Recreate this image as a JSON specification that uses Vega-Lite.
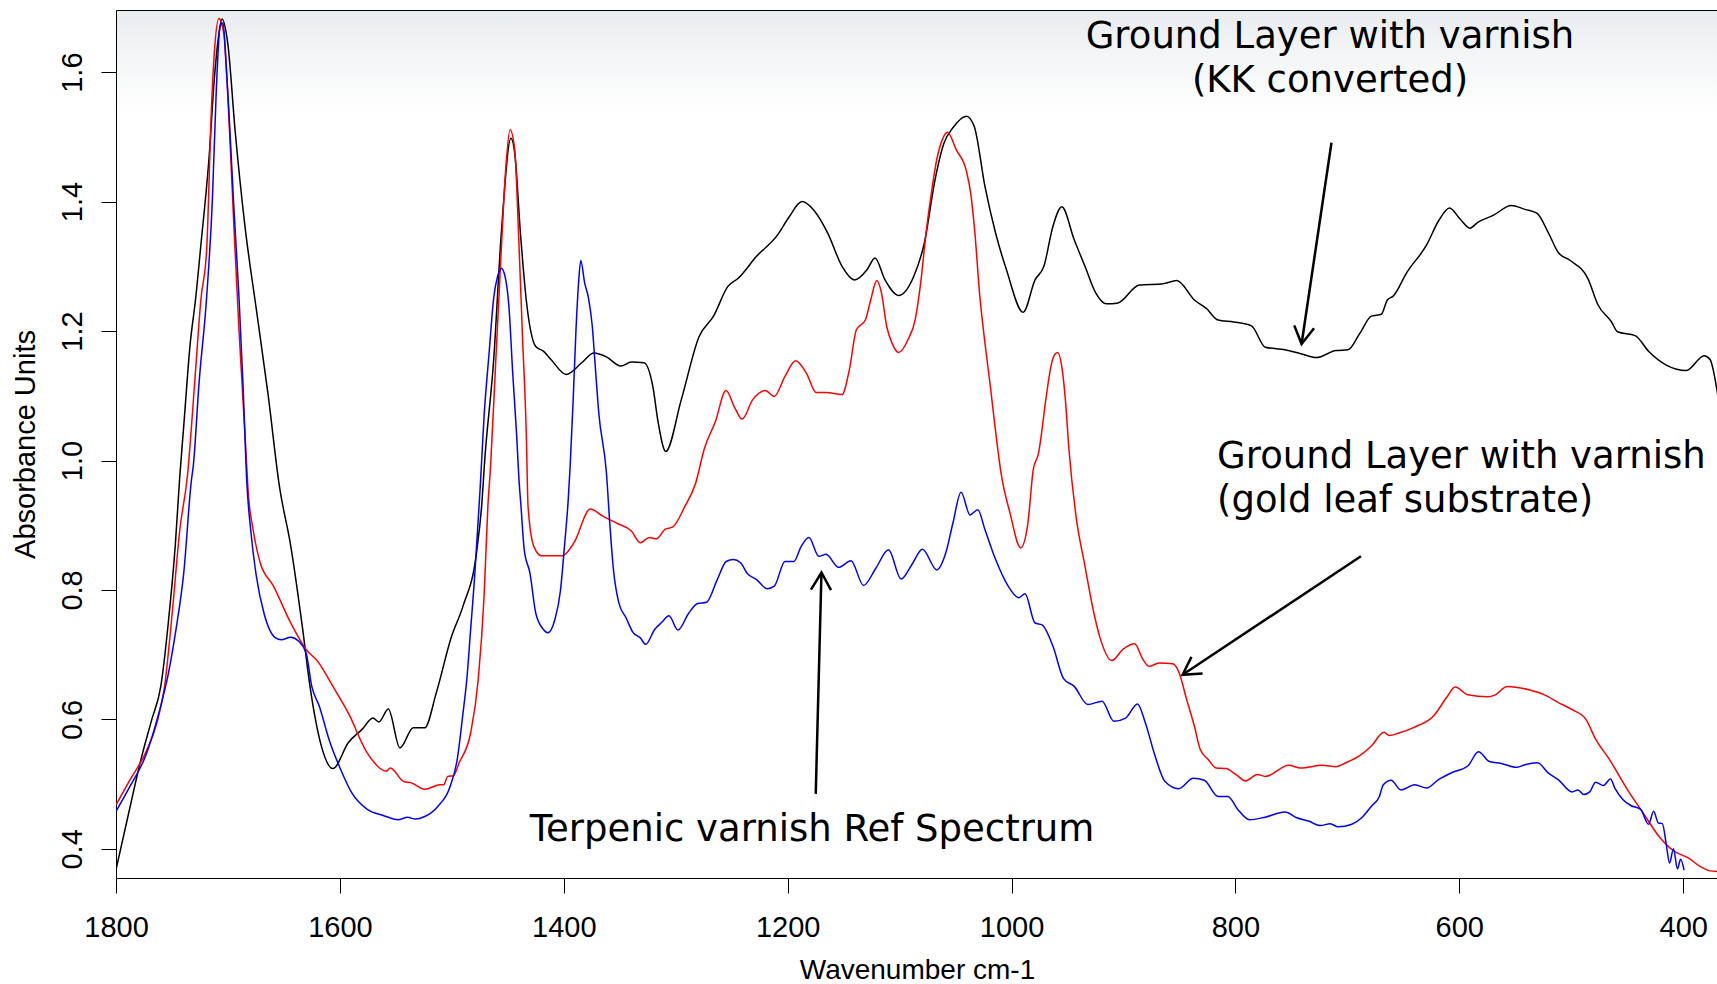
{
  "$schema": "https://vega.github.io/schema/vega-lite/v6.json",
  "width": 1602,
  "height": 868,
  "autosize": {"type": "none"},
  "padding": {"left": 116, "top": 10, "right": 0, "bottom": 106},
  "background": "#ffffff",
  "config": {
    "view": {
      "stroke": "#000000",
      "strokeWidth": 1,
      "fill": {"gradient": "linear", "x1": 0, "y1": 0, "x2": 0, "y2": 1, "stops": [{"offset": 0, "color": "#e9ecef"}, {"offset": 0.05, "color": "#f3f5f6"}, {"offset": 0.12, "color": "#ffffff"}, {"offset": 1, "color": "#ffffff"}]}
    }
  },
  "datasets": {
    "spec": [
      {"s":"K","w":1800,"v":0.368},{"s":"K","w":1790,"v":0.445},{"s":"K","w":1777,"v":0.543},{"s":"K","w":1768,"v":0.600},{"s":"K","w":1760,"v":0.651},{"s":"K","w":1753,"v":0.754},{"s":"K","w":1747,"v":0.870},{"s":"K","w":1743,"v":0.976},{"s":"K","w":1739.5,"v":1.053},{"s":"K","w":1733.7,"v":1.181},{"s":"K","w":1729,"v":1.248},{"s":"K","w":1724,"v":1.336},{"s":"K","w":1717,"v":1.465},{"s":"K","w":1712,"v":1.593},{"s":"K","w":1708,"v":1.660},{"s":"K","w":1705.3,"v":1.682},{"s":"K","w":1700.2,"v":1.645},{"s":"K","w":1693.4,"v":1.506},{"s":"K","w":1684.8,"v":1.362},{"s":"K","w":1674.6,"v":1.233},{"s":"K","w":1664.3,"v":1.104},{"s":"K","w":1654,"v":0.960},{"s":"K","w":1643.8,"v":0.867},{"s":"K","w":1633.6,"v":0.744},{"s":"K","w":1626.7,"v":0.651},{"s":"K","w":1616.4,"v":0.558},{"s":"K","w":1606.2,"v":0.524},{"s":"K","w":1592.5,"v":0.564},{"s":"K","w":1580,"v":0.585},{"s":"K","w":1570.4,"v":0.602},{"s":"K","w":1565.2,"v":0.596},{"s":"K","w":1556.7,"v":0.616},{"s":"K","w":1546.4,"v":0.556},{"s":"K","w":1534.4,"v":0.587},{"s":"K","w":1524.2,"v":0.587},{"s":"K","w":1513.9,"v":0.641},{"s":"K","w":1500.3,"v":0.728},{"s":"K","w":1490,"v":0.775},{"s":"K","w":1478,"v":0.857},{"s":"K","w":1472.9,"v":0.940},{"s":"K","w":1471,"v":0.991},{"s":"K","w":1462.6,"v":1.156},{"s":"K","w":1455.8,"v":1.351},{"s":"K","w":1447.2,"v":1.498},{"s":"K","w":1443.8,"v":1.475},{"s":"K","w":1438.7,"v":1.351},{"s":"K","w":1433.5,"v":1.248},{"s":"K","w":1425,"v":1.176},{"s":"K","w":1418.2,"v":1.169},{"s":"K","w":1411.4,"v":1.156},{"s":"K","w":1397.7,"v":1.133},{"s":"K","w":1384,"v":1.151},{"s":"K","w":1373,"v":1.166},{"s":"K","w":1361.9,"v":1.160},{"s":"K","w":1349.1,"v":1.146},{"s":"K","w":1339.6,"v":1.152},{"s":"K","w":1328.4,"v":1.151},{"s":"K","w":1320.4,"v":1.114},{"s":"K","w":1315.6,"v":1.058},{"s":"K","w":1308.9,"v":1.014},{"s":"K","w":1295,"v":1.094},{"s":"K","w":1279,"v":1.192},{"s":"K","w":1266.2,"v":1.223},{"s":"K","w":1253.4,"v":1.269},{"s":"K","w":1243.9,"v":1.282},{"s":"K","w":1228,"v":1.315},{"s":"K","w":1208.8,"v":1.349},{"s":"K","w":1199.2,"v":1.375},{"s":"K","w":1187.1,"v":1.400},{"s":"K","w":1176.8,"v":1.387},{"s":"K","w":1164.1,"v":1.351},{"s":"K","w":1151.4,"v":1.300},{"s":"K","w":1140.2,"v":1.279},{"s":"K","w":1129,"v":1.295},{"s":"K","w":1122,"v":1.313},{"s":"K","w":1113,"v":1.279},{"s":"K","w":1100.9,"v":1.255},{"s":"K","w":1087.5,"v":1.284},{"s":"K","w":1077.9,"v":1.336},{"s":"K","w":1068.3,"v":1.434},{"s":"K","w":1060.4,"v":1.490},{"s":"K","w":1052.4,"v":1.514},{"s":"K","w":1040.3,"v":1.532},{"s":"K","w":1033.3,"v":1.516},{"s":"K","w":1023.7,"v":1.423},{"s":"K","w":1014.2,"v":1.351},{"s":"K","w":1004.6,"v":1.295},{"s":"K","w":989.6,"v":1.229},{"s":"K","w":979,"v":1.279},{"s":"K","w":971.1,"v":1.300},{"s":"K","w":963,"v":1.362},{"s":"K","w":955.1,"v":1.392},{"s":"K","w":944,"v":1.341},{"s":"K","w":934.4,"v":1.300},{"s":"K","w":924.8,"v":1.259},{"s":"K","w":915.2,"v":1.242},{"s":"K","w":905.7,"v":1.243},{"s":"K","w":885.8,"v":1.271},{"s":"K","w":864.7,"v":1.273},{"s":"K","w":852.4,"v":1.278},{"s":"K","w":836.6,"v":1.248},{"s":"K","w":826,"v":1.235},{"s":"K","w":815.5,"v":1.217},{"s":"K","w":801.5,"v":1.214},{"s":"K","w":785.7,"v":1.208},{"s":"K","w":773.3,"v":1.175},{"s":"K","w":755.7,"v":1.171},{"s":"K","w":741.7,"v":1.165},{"s":"K","w":727.6,"v":1.159},{"s":"K","w":710.1,"v":1.170},{"s":"K","w":699.5,"v":1.171},{"s":"K","w":689,"v":1.196},{"s":"K","w":678.5,"v":1.223},{"s":"K","w":669.6,"v":1.226},{"s":"K","w":664.3,"v":1.248},{"s":"K","w":659.1,"v":1.254},{"s":"K","w":646.7,"v":1.291},{"s":"K","w":629.2,"v":1.333},{"s":"K","w":618.6,"v":1.370},{"s":"K","w":608.7,"v":1.390},{"s":"K","w":599.3,"v":1.373},{"s":"K","w":590.5,"v":1.359},{"s":"K","w":583.5,"v":1.368},{"s":"K","w":569.4,"v":1.379},{"s":"K","w":553.6,"v":1.394},{"s":"K","w":541.3,"v":1.388},{"s":"K","w":530.7,"v":1.382},{"s":"K","w":520.2,"v":1.351},{"s":"K","w":511.4,"v":1.321},{"s":"K","w":500.9,"v":1.309},{"s":"K","w":485.1,"v":1.281},{"s":"K","w":476.3,"v":1.241},{"s":"K","w":464,"v":1.214},{"s":"K","w":458.7,"v":1.199},{"s":"K","w":442.9,"v":1.193},{"s":"K","w":430.5,"v":1.168},{"s":"K","w":414.7,"v":1.147},{"s":"K","w":397.1,"v":1.139},{"s":"K","w":381.3,"v":1.162},{"s":"K","w":376,"v":1.156},{"s":"K","w":369,"v":1.100},
      {"s":"R","w":1800,"v":0.468},{"s":"R","w":1787.4,"v":0.507},{"s":"R","w":1773.7,"v":0.548},{"s":"R","w":1763.4,"v":0.595},{"s":"R","w":1756.6,"v":0.651},{"s":"R","w":1749.8,"v":0.764},{"s":"R","w":1743,"v":0.893},{"s":"R","w":1736.2,"v":0.976},{"s":"R","w":1729.3,"v":1.130},{"s":"R","w":1724.2,"v":1.248},{"s":"R","w":1719,"v":1.326},{"s":"R","w":1714.9,"v":1.537},{"s":"R","w":1712.2,"v":1.629},{"s":"R","w":1708.1,"v":1.683},{"s":"R","w":1703.7,"v":1.660},{"s":"R","w":1698.5,"v":1.506},{"s":"R","w":1694.4,"v":1.351},{"s":"R","w":1690,"v":1.197},{"s":"R","w":1684.8,"v":1.042},{"s":"R","w":1681.4,"v":0.940},{"s":"R","w":1678,"v":0.898},{"s":"R","w":1671.2,"v":0.842},{"s":"R","w":1659.3,"v":0.806},{"s":"R","w":1643.9,"v":0.749},{"s":"R","w":1630.2,"v":0.708},{"s":"R","w":1620,"v":0.690},{"s":"R","w":1606.2,"v":0.651},{"s":"R","w":1592.5,"v":0.610},{"s":"R","w":1575.5,"v":0.548},{"s":"R","w":1558.4,"v":0.520},{"s":"R","w":1554.9,"v":0.525},{"s":"R","w":1543,"v":0.504},{"s":"R","w":1536.2,"v":0.502},{"s":"R","w":1524.2,"v":0.492},{"s":"R","w":1510.5,"v":0.499},{"s":"R","w":1507.2,"v":0.499},{"s":"R","w":1503.7,"v":0.512},{"s":"R","w":1498.6,"v":0.513},{"s":"R","w":1493.5,"v":0.533},{"s":"R","w":1483.2,"v":0.579},{"s":"R","w":1476.4,"v":0.662},{"s":"R","w":1471.2,"v":0.790},{"s":"R","w":1467.8,"v":0.929},{"s":"R","w":1465.4,"v":0.991},{"s":"R","w":1461,"v":1.145},{"s":"R","w":1455.8,"v":1.326},{"s":"R","w":1451.7,"v":1.454},{"s":"R","w":1448,"v":1.511},{"s":"R","w":1443.8,"v":1.480},{"s":"R","w":1440.4,"v":1.351},{"s":"R","w":1437,"v":1.197},{"s":"R","w":1433.5,"v":1.042},{"s":"R","w":1431.9,"v":0.929},{"s":"R","w":1426.7,"v":0.867},{"s":"R","w":1420,"v":0.853},{"s":"R","w":1401.1,"v":0.853},{"s":"R","w":1390.9,"v":0.873},{"s":"R","w":1376.3,"v":0.925},{"s":"R","w":1365.1,"v":0.914},{"s":"R","w":1352.4,"v":0.903},{"s":"R","w":1339.6,"v":0.891},{"s":"R","w":1331.6,"v":0.873},{"s":"R","w":1323.6,"v":0.881},{"s":"R","w":1317.3,"v":0.879},{"s":"R","w":1309.3,"v":0.894},{"s":"R","w":1302.9,"v":0.897},{"s":"R","w":1291.8,"v":0.929},{"s":"R","w":1282.2,"v":0.965},{"s":"R","w":1274.3,"v":1.019},{"s":"R","w":1264.6,"v":1.060},{"s":"R","w":1255.1,"v":1.108},{"s":"R","w":1247.1,"v":1.081},{"s":"R","w":1240.7,"v":1.064},{"s":"R","w":1231.2,"v":1.094},{"s":"R","w":1220,"v":1.108},{"s":"R","w":1212,"v":1.099},{"s":"R","w":1202.4,"v":1.130},{"s":"R","w":1192.9,"v":1.154},{"s":"R","w":1183.3,"v":1.135},{"s":"R","w":1174.4,"v":1.105},{"s":"R","w":1165.7,"v":1.105},{"s":"R","w":1151.4,"v":1.102},{"s":"R","w":1144.9,"v":1.140},{"s":"R","w":1138.6,"v":1.202},{"s":"R","w":1130.6,"v":1.217},{"s":"R","w":1125.8,"v":1.248},{"s":"R","w":1120.4,"v":1.278},{"s":"R","w":1116.2,"v":1.259},{"s":"R","w":1111.5,"v":1.207},{"s":"R","w":1106.7,"v":1.181},{"s":"R","w":1100.9,"v":1.167},{"s":"R","w":1092.4,"v":1.187},{"s":"R","w":1086,"v":1.218},{"s":"R","w":1081.2,"v":1.274},{"s":"R","w":1076.4,"v":1.351},{"s":"R","w":1071.6,"v":1.413},{"s":"R","w":1066.8,"v":1.465},{"s":"R","w":1062,"v":1.495},{"s":"R","w":1057.3,"v":1.507},{"s":"R","w":1049.3,"v":1.480},{"s":"R","w":1040.3,"v":1.447},{"s":"R","w":1036.5,"v":1.413},{"s":"R","w":1032.7,"v":1.351},{"s":"R","w":1028.6,"v":1.259},{"s":"R","w":1023.7,"v":1.181},{"s":"R","w":1018.9,"v":1.114},{"s":"R","w":1014.8,"v":1.053},{"s":"R","w":1009.4,"v":0.981},{"s":"R","w":1001.4,"v":0.919},{"s":"R","w":991.8,"v":0.865},{"s":"R","w":985.4,"v":0.903},{"s":"R","w":980.6,"v":0.986},{"s":"R","w":975.8,"v":1.012},{"s":"R","w":973.2,"v":1.042},{"s":"R","w":969.4,"v":1.094},{"s":"R","w":963,"v":1.158},{"s":"R","w":958.9,"v":1.167},{"s":"R","w":955.1,"v":1.145},{"s":"R","w":951.9,"v":1.094},{"s":"R","w":948.7,"v":1.017},{"s":"R","w":942.4,"v":0.914},{"s":"R","w":934.4,"v":0.837},{"s":"R","w":926.4,"v":0.764},{"s":"R","w":920.9,"v":0.726},{"s":"R","w":910.5,"v":0.691},{"s":"R","w":900,"v":0.709},{"s":"R","w":890.1,"v":0.717},{"s":"R","w":882.4,"v":0.692},{"s":"R","w":877.1,"v":0.682},{"s":"R","w":868.3,"v":0.687},{"s":"R","w":856,"v":0.686},{"s":"R","w":850.7,"v":0.674},{"s":"R","w":843.6,"v":0.631},{"s":"R","w":836.6,"v":0.589},{"s":"R","w":831.3,"v":0.553},{"s":"R","w":824.3,"v":0.538},{"s":"R","w":817.3,"v":0.525},{"s":"R","w":808.5,"v":0.524},{"s":"R","w":799.7,"v":0.515},{"s":"R","w":790.9,"v":0.505},{"s":"R","w":780.4,"v":0.515},{"s":"R","w":773.3,"v":0.512},{"s":"R","w":752.3,"v":0.529},{"s":"R","w":741.7,"v":0.525},{"s":"R","w":722.4,"v":0.529},{"s":"R","w":710.1,"v":0.527},{"s":"R","w":701.3,"v":0.533},{"s":"R","w":689,"v":0.544},{"s":"R","w":678.5,"v":0.559},{"s":"R","w":667.2,"v":0.580},{"s":"R","w":662.6,"v":0.575},{"s":"R","w":653.8,"v":0.579},{"s":"R","w":641.5,"v":0.587},{"s":"R","w":622.2,"v":0.607},{"s":"R","w":611.7,"v":0.633},{"s":"R","w":603.6,"v":0.650},{"s":"R","w":592.4,"v":0.638},{"s":"R","w":574.8,"v":0.635},{"s":"R","w":567.8,"v":0.638},{"s":"R","w":557.3,"v":0.651},{"s":"R","w":536.2,"v":0.645},{"s":"R","w":523.9,"v":0.638},{"s":"R","w":511.4,"v":0.626},{"s":"R","w":499.1,"v":0.615},{"s":"R","w":486.9,"v":0.600},{"s":"R","w":478.1,"v":0.569},{"s":"R","w":465.8,"v":0.538},{"s":"R","w":450,"v":0.492},{"s":"R","w":436,"v":0.456},{"s":"R","w":421.9,"v":0.420},{"s":"R","w":407.8,"v":0.396},{"s":"R","w":395.5,"v":0.386},{"s":"R","w":385,"v":0.373},{"s":"R","w":376.1,"v":0.366},{"s":"R","w":369,"v":0.365},
      {"s":"B","w":1800,"v":0.458},{"s":"B","w":1787.4,"v":0.497},{"s":"B","w":1773.7,"v":0.543},{"s":"B","w":1761.7,"v":0.610},{"s":"B","w":1753.1,"v":0.672},{"s":"B","w":1746.4,"v":0.739},{"s":"B","w":1739.5,"v":0.826},{"s":"B","w":1732.6,"v":0.970},{"s":"B","w":1731,"v":0.991},{"s":"B","w":1725.8,"v":1.120},{"s":"B","w":1719,"v":1.253},{"s":"B","w":1713.9,"v":1.403},{"s":"B","w":1710.5,"v":1.568},{"s":"B","w":1707,"v":1.671},{"s":"B","w":1704.3,"v":1.676},{"s":"B","w":1701.9,"v":1.619},{"s":"B","w":1699.2,"v":1.542},{"s":"B","w":1695.1,"v":1.403},{"s":"B","w":1690,"v":1.248},{"s":"B","w":1686.5,"v":1.115},{"s":"B","w":1683.1,"v":0.965},{"s":"B","w":1679.7,"v":0.893},{"s":"B","w":1674.6,"v":0.821},{"s":"B","w":1667.8,"v":0.764},{"s":"B","w":1657.5,"v":0.726},{"s":"B","w":1652.4,"v":0.723},{"s":"B","w":1643.9,"v":0.727},{"s":"B","w":1637,"v":0.721},{"s":"B","w":1630.2,"v":0.703},{"s":"B","w":1625.1,"v":0.651},{"s":"B","w":1618.3,"v":0.620},{"s":"B","w":1609.7,"v":0.569},{"s":"B","w":1599.4,"v":0.523},{"s":"B","w":1589.2,"v":0.486},{"s":"B","w":1575.5,"v":0.461},{"s":"B","w":1561.8,"v":0.452},{"s":"B","w":1548,"v":0.445},{"s":"B","w":1539.5,"v":0.449},{"s":"B","w":1532.8,"v":0.446},{"s":"B","w":1524.2,"v":0.450},{"s":"B","w":1512.3,"v":0.466},{"s":"B","w":1502,"v":0.494},{"s":"B","w":1495.2,"v":0.538},{"s":"B","w":1490,"v":0.610},{"s":"B","w":1486.6,"v":0.662},{"s":"B","w":1483.2,"v":0.739},{"s":"B","w":1479.8,"v":0.816},{"s":"B","w":1477,"v":0.893},{"s":"B","w":1474.6,"v":0.960},{"s":"B","w":1471.2,"v":1.068},{"s":"B","w":1466.7,"v":1.166},{"s":"B","w":1462.6,"v":1.251},{"s":"B","w":1459.2,"v":1.284},{"s":"B","w":1455.8,"v":1.297},{"s":"B","w":1452.4,"v":1.284},{"s":"B","w":1449,"v":1.238},{"s":"B","w":1445.6,"v":1.135},{"s":"B","w":1442.2,"v":1.042},{"s":"B","w":1439.8,"v":0.965},{"s":"B","w":1438.2,"v":0.929},{"s":"B","w":1435.3,"v":0.862},{"s":"B","w":1430.2,"v":0.826},{"s":"B","w":1425,"v":0.764},{"s":"B","w":1418.2,"v":0.739},{"s":"B","w":1414.2,"v":0.734},{"s":"B","w":1408,"v":0.754},{"s":"B","w":1402.9,"v":0.800},{"s":"B","w":1399.4,"v":0.867},{"s":"B","w":1396,"v":0.940},{"s":"B","w":1394.3,"v":0.991},{"s":"B","w":1391.6,"v":1.094},{"s":"B","w":1389.2,"v":1.197},{"s":"B","w":1386.8,"v":1.274},{"s":"B","w":1384.8,"v":1.309},{"s":"B","w":1381.3,"v":1.274},{"s":"B","w":1377.9,"v":1.251},{"s":"B","w":1374.5,"v":1.207},{"s":"B","w":1372.1,"v":1.151},{"s":"B","w":1368.7,"v":1.073},{"s":"B","w":1361.9,"v":0.981},{"s":"B","w":1358.7,"v":0.898},{"s":"B","w":1355.6,"v":0.831},{"s":"B","w":1350.8,"v":0.780},{"s":"B","w":1344.4,"v":0.757},{"s":"B","w":1338,"v":0.734},{"s":"B","w":1331.6,"v":0.726},{"s":"B","w":1326.8,"v":0.716},{"s":"B","w":1318.8,"v":0.739},{"s":"B","w":1312.4,"v":0.750},{"s":"B","w":1306,"v":0.760},{"s":"B","w":1298,"v":0.738},{"s":"B","w":1288.4,"v":0.764},{"s":"B","w":1280.5,"v":0.779},{"s":"B","w":1272.5,"v":0.781},{"s":"B","w":1262.9,"v":0.816},{"s":"B","w":1254.9,"v":0.844},{"s":"B","w":1248.5,"v":0.847},{"s":"B","w":1242.1,"v":0.842},{"s":"B","w":1235.8,"v":0.825},{"s":"B","w":1227.8,"v":0.816},{"s":"B","w":1218.3,"v":0.802},{"s":"B","w":1211.9,"v":0.806},{"s":"B","w":1202.4,"v":0.844},{"s":"B","w":1194.4,"v":0.844},{"s":"B","w":1188,"v":0.867},{"s":"B","w":1181,"v":0.881},{"s":"B","w":1172.1,"v":0.852},{"s":"B","w":1165.7,"v":0.855},{"s":"B","w":1154.5,"v":0.835},{"s":"B","w":1143.4,"v":0.845},{"s":"B","w":1132.2,"v":0.807},{"s":"B","w":1121.1,"v":0.834},{"s":"B","w":1109.9,"v":0.862},{"s":"B","w":1098.7,"v":0.817},{"s":"B","w":1089.1,"v":0.839},{"s":"B","w":1079.6,"v":0.863},{"s":"B","w":1066.8,"v":0.831},{"s":"B","w":1058.8,"v":0.857},{"s":"B","w":1052.4,"v":0.903},{"s":"B","w":1045.1,"v":0.951},{"s":"B","w":1037.1,"v":0.916},{"s":"B","w":1030.1,"v":0.924},{"s":"B","w":1023.7,"v":0.893},{"s":"B","w":1014.2,"v":0.847},{"s":"B","w":1003,"v":0.806},{"s":"B","w":993.4,"v":0.788},{"s":"B","w":988,"v":0.794},{"s":"B","w":979,"v":0.749},{"s":"B","w":972.7,"v":0.746},{"s":"B","w":963,"v":0.713},{"s":"B","w":953.5,"v":0.663},{"s":"B","w":944,"v":0.651},{"s":"B","w":931.8,"v":0.623},{"s":"B","w":919.1,"v":0.628},{"s":"B","w":908.6,"v":0.597},{"s":"B","w":898.1,"v":0.602},{"s":"B","w":887.5,"v":0.624},{"s":"B","w":880.5,"v":0.595},{"s":"B","w":871.7,"v":0.543},{"s":"B","w":862.9,"v":0.504},{"s":"B","w":850.7,"v":0.493},{"s":"B","w":837.6,"v":0.509},{"s":"B","w":827.8,"v":0.506},{"s":"B","w":815.5,"v":0.481},{"s":"B","w":806.7,"v":0.481},{"s":"B","w":797.9,"v":0.461},{"s":"B","w":787.4,"v":0.445},{"s":"B","w":773.3,"v":0.449},{"s":"B","w":755.7,"v":0.457},{"s":"B","w":745.2,"v":0.448},{"s":"B","w":734.6,"v":0.443},{"s":"B","w":724.1,"v":0.436},{"s":"B","w":715.3,"v":0.439},{"s":"B","w":708.3,"v":0.434},{"s":"B","w":696,"v":0.438},{"s":"B","w":687.2,"v":0.448},{"s":"B","w":678.5,"v":0.466},{"s":"B","w":671.4,"v":0.481},{"s":"B","w":667.9,"v":0.499},{"s":"B","w":660.9,"v":0.506},{"s":"B","w":652.1,"v":0.491},{"s":"B","w":639.8,"v":0.499},{"s":"B","w":629.2,"v":0.494},{"s":"B","w":618.6,"v":0.507},{"s":"B","w":606.4,"v":0.518},{"s":"B","w":592.4,"v":0.528},{"s":"B","w":582.9,"v":0.550},{"s":"B","w":573.1,"v":0.535},{"s":"B","w":562.5,"v":0.532},{"s":"B","w":548.4,"v":0.526},{"s":"B","w":541.5,"v":0.530},{"s":"B","w":530.2,"v":0.533},{"s":"B","w":520.4,"v":0.517},{"s":"B","w":511.6,"v":0.507},{"s":"B","w":499.3,"v":0.488},{"s":"B","w":494,"v":0.491},{"s":"B","w":488.8,"v":0.484},{"s":"B","w":483.5,"v":0.488},{"s":"B","w":478.2,"v":0.503},{"s":"B","w":471.3,"v":0.498},{"s":"B","w":465,"v":0.508},{"s":"B","w":460.8,"v":0.493},{"s":"B","w":453.7,"v":0.476},{"s":"B","w":446.8,"v":0.467},{"s":"B","w":438,"v":0.461},{"s":"B","w":430.9,"v":0.438},{"s":"B","w":426.4,"v":0.458},{"s":"B","w":422.2,"v":0.440},{"s":"B","w":418.6,"v":0.439},{"s":"B","w":415.1,"v":0.407},{"s":"B","w":412.2,"v":0.378},{"s":"B","w":408.7,"v":0.400},{"s":"B","w":405.1,"v":0.369},{"s":"B","w":402.3,"v":0.384},{"s":"B","w":399.2,"v":0.367}
    ],
    "annC": [
      {"label": "Ground Layer with varnish\n(KK converted)", "w": 715.5, "v": 1.637},
      {"label": "Terpenic varnish Ref Spectrum", "w": 1178.2, "v": 0.412}
    ],
    "annL": [
      {"label": "Ground Layer with varnish\n(gold leaf substrate)", "w": 816.4, "v": 0.988}
    ],
    "arrows": [
      {"w1": 714.2, "v1": 1.491, "w2": 740.9, "v2": 1.180, "ang": 188.5},
      {"w1": 687.9, "v1": 0.852, "w2": 847.2, "v2": 0.669, "ang": 236.4},
      {"w1": 1174.9, "v1": 0.485, "w2": 1169.8, "v2": 0.827, "ang": 1.5}
    ]
  },
  "layer": [
    {
      "data": {"name": "spec"},
      "mark": {"type": "line", "strokeWidth": 1.5, "clip": true, "interpolate": "monotone"},
      "encoding": {
        "x": {
          "field": "w", "type": "quantitative",
          "scale": {"domain": [368.9, 1800], "reverse": true, "nice": false, "zero": false},
          "axis": {
            "title": "Wavenumber cm-1",
            "values": [1800, 1600, 1400, 1200, 1000, 800, 600, 400],
            "format": "d",
            "grid": false, "domain": false,
            "tickSize": 15, "tickColor": "#000000", "tickWidth": 1,
            "labelFont": "Liberation Sans", "labelFontSize": 29, "labelColor": "#000000",
            "labelBaseline": "top", "labelPadding": 20, "labelFlush": false, "labelOverlap": false,
            "titleFont": "Liberation Sans", "titleFontSize": 28, "titleFontWeight": "normal", "titleColor": "#000000",
            "titlePadding": 14
          }
        },
        "y": {
          "field": "v", "type": "quantitative",
          "scale": {"domain": [0.355, 1.696], "nice": false, "zero": false},
          "axis": {
            "title": "Absorbance Units",
            "values": [0.4, 0.6, 0.8, 1.0, 1.2, 1.4, 1.6],
            "format": ".1f",
            "grid": false, "domain": false,
            "tickSize": 15, "tickColor": "#000000", "tickWidth": 1,
            "labelFont": "Liberation Sans", "labelFontSize": 29, "labelColor": "#000000",
            "labelAngle": 270, "labelAlign": "center", "labelBaseline": "alphabetic", "labelPadding": 20,
            "labelFlush": false, "labelOverlap": false,
            "titleFont": "Liberation Sans", "titleFontSize": 29, "titleFontWeight": "normal", "titleColor": "#000000",
            "titlePadding": 18
          }
        },
        "color": {"field": "s", "type": "nominal", "scale": {"domain": ["K", "R", "B"], "range": ["#000000", "#ff0000", "#0000ff"]}, "legend": null}
      }
    },
    {
      "data": {"name": "arrows"},
      "mark": {"type": "rule", "color": "#000000", "strokeWidth": 2.5},
      "encoding": {
        "x": {"field": "w1", "type": "quantitative", "scale": {"domain": [368.9, 1800], "reverse": true, "nice": false, "zero": false}, "title": "Wavenumber cm-1"},
        "y": {"field": "v1", "type": "quantitative", "scale": {"domain": [0.355, 1.696], "nice": false, "zero": false}, "title": "Absorbance Units"},
        "x2": {"field": "w2"},
        "y2": {"field": "v2"}
      }
    },
    {
      "data": {"name": "arrows"},
      "mark": {"type": "point", "shape": "M-0.5,0.866L0,0L0.5,0.866", "filled": false, "fill": null, "stroke": "#000000", "strokeWidth": 2.5, "size": 1600, "opacity": 1},
      "encoding": {
        "x": {"field": "w2", "type": "quantitative", "scale": {"domain": [368.9, 1800], "reverse": true, "nice": false, "zero": false}, "title": "Wavenumber cm-1"},
        "y": {"field": "v2", "type": "quantitative", "scale": {"domain": [0.355, 1.696], "nice": false, "zero": false}, "title": "Absorbance Units"},
        "angle": {"field": "ang", "type": "quantitative", "scale": null}
      }
    },
    {
      "data": {"name": "annC"},
      "mark": {"type": "text", "font": "DejaVu Sans", "fontSize": 37, "align": "center", "baseline": "alphabetic", "lineBreak": "\n", "lineHeight": 44, "color": "#000000"},
      "encoding": {
        "x": {"field": "w", "type": "quantitative", "scale": {"domain": [368.9, 1800], "reverse": true, "nice": false, "zero": false}, "title": "Wavenumber cm-1"},
        "y": {"field": "v", "type": "quantitative", "scale": {"domain": [0.355, 1.696], "nice": false, "zero": false}, "title": "Absorbance Units"},
        "text": {"field": "label", "type": "nominal"}
      }
    },
    {
      "data": {"name": "annL"},
      "mark": {"type": "text", "font": "DejaVu Sans", "fontSize": 37, "align": "left", "baseline": "alphabetic", "lineBreak": "\n", "lineHeight": 44, "color": "#000000"},
      "encoding": {
        "x": {"field": "w", "type": "quantitative", "scale": {"domain": [368.9, 1800], "reverse": true, "nice": false, "zero": false}, "title": "Wavenumber cm-1"},
        "y": {"field": "v", "type": "quantitative", "scale": {"domain": [0.355, 1.696], "nice": false, "zero": false}, "title": "Absorbance Units"},
        "text": {"field": "label", "type": "nominal"}
      }
    }
  ]
}
